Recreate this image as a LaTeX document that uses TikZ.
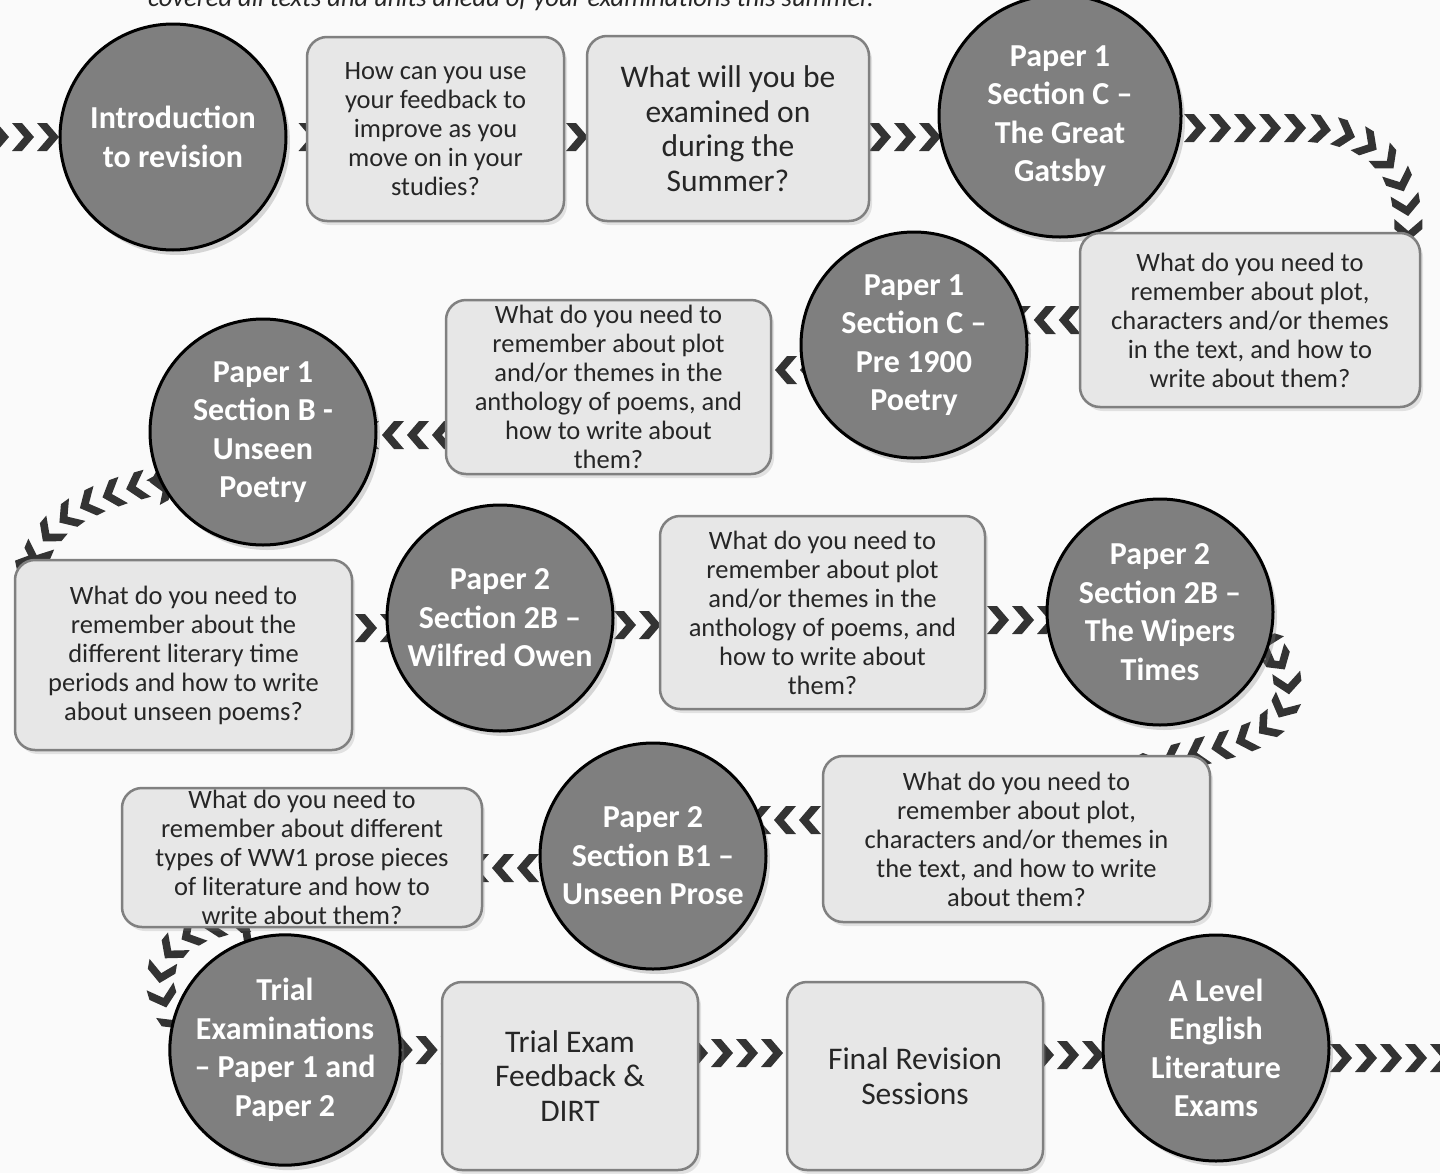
\documentclass[tikz,border=0pt]{standalone}
\usepackage{fontspec}
\setmainfont{Carlito}
\usepackage{xcolor}
\definecolor{stopgray}{RGB}{127,127,127}
\definecolor{boxgray}{RGB}{231,231,231}
\definecolor{edgegray}{RGB}{128,128,128}
\definecolor{chevgray}{RGB}{51,51,51}
\definecolor{textgray}{RGB}{38,38,38}
\definecolor{pagegray}{RGB}{250,250,250}
\usetikzlibrary{shadows, backgrounds, decorations.markings}

\begin{document}
\begin{tikzpicture}[x=1pt, y=-1pt,
    stop/.style={circle, draw=black, line width=3pt, fill=stopgray, minimum size=226pt, inner sep=0pt,
      text=white, align=center, font=\bfseries\fontsize{32}{38.5}\selectfont,
      drop shadow={opacity=0.3, shadow xshift=4pt, shadow yshift=-5pt}},
    task/.style={rectangle, rounded corners=20pt, draw=edgegray, line width=2.5pt, fill=boxgray, inner sep=0pt,
      text=textgray, align=center, font=\fontsize{26.5}{29}\selectfont,
      drop shadow={opacity=0.2, shadow xshift=3pt, shadow yshift=-4pt}},
    bigtask/.style={task, font=\fontsize{31.5}{34.5}\selectfont},
    chevs/.style={decorate, decoration={markings,
      mark=between positions #1 and 1 step 25pt with {\fill[chevgray] (-11,-14) -- (-1,-14) -- (11,0) -- (-1,14) -- (-11,14) -- (1,0) -- cycle;}}},
    chevs/.default=0pt]

      \useasboundingbox (0,0) rectangle (1440,1173);
      \clip (0,0) rectangle (1440,1173);

      % Lead-in line (cut off at the top)
      \node[anchor=base, text=textgray, font=\itshape\fontsize{26.5}{29}\selectfont] (lead) at (511,6)
        {covered all texts and units ahead of your examinations this summer.};

      % Row 1
      \node[stop] (intro) at (173,137) {Introduction\\to revision};
      \node[task, minimum width=257pt, minimum height=184pt] (feedback) at (435.5,129)
        {How can you use\\your feedback to\\improve as you\\move on in your\\studies?};
      \node[bigtask, minimum width=282pt, minimum height=185pt] (examined) at (728,128.5)
        {What will you be\\examined on\\during the\\Summer?};
      \node[stop, minimum size=242pt] (gatsby) at (1060,116) {Paper 1\\Section C --\\The Great\\Gatsby};

      % Row 2
      \node[task, minimum width=340pt, minimum height=174pt] (gatsbyq) at (1250,320)
        {What do you need to\\remember about plot,\\characters and/or themes\\in the text, and how to\\write about them?};
      \node[stop] (pre) at (914,345) {Paper 1\\Section C --\\Pre 1900\\Poetry};
      \node[task, minimum width=325pt, minimum height=174pt] (preq) at (608.5,387)
        {What do you need to\\remember about plot\\and/or themes in the\\anthology of poems, and\\how to write about\\them?};
      \node[stop] (unseen) at (263,432) {Paper 1\\Section B -\\Unseen\\Poetry};

      % Row 3
      \node[task, minimum width=337pt, minimum height=190pt] (unseenq) at (183.5,655)
        {What do you need to\\remember about the\\different literary time\\periods and how to write\\about unseen poems?};
      \node[stop] (owen) at (500,618) {Paper 2\\Section 2B --\\Wilfred Owen};
      \node[task, minimum width=325pt, minimum height=193pt] (owenq) at (822.5,612.5)
        {What do you need to\\remember about plot\\and/or themes in the\\anthology of poems, and\\how to write about\\them?};
      \node[stop] (wipers) at (1160,612) {Paper 2\\Section 2B --\\The Wipers\\Times};

      % Row 4
      \node[task, minimum width=387pt, minimum height=166pt] (wipersq) at (1016.5,839)
        {What do you need to\\remember about plot,\\characters and/or themes in\\the text, and how to write\\about them?};
      \node[stop] (prose) at (653,856) {Paper 2\\Section B1 --\\Unseen Prose};
      \node[task, minimum width=360pt, minimum height=139pt] (proseq) at (302,857.5)
        {What do you need to\\remember about different\\types of WW1 prose pieces\\of literature and how to\\write about them?};

      % Row 5
      \node[stop] (trial) at (285,1050) {Trial\\Examinations\\-- Paper 1 and\\Paper 2};
      \node[bigtask, minimum width=256pt, minimum height=188pt] (dirt) at (570,1076) {Trial Exam\\Feedback \&\\DIRT};
      \node[bigtask, minimum width=256pt, minimum height=188pt] (final) at (915,1076) {Final Revision\\Sessions};
      \node[stop] (exams) at (1216,1048) {A Level\\English\\Literature\\Exams};

      % Chevron trail, behind the stops
      \begin{pgfonlayer}{background}
        \fill[pagegray] (0,0) rectangle (1440,1173);
        \coordinate (entry) at (-30,137);
        \coordinate (exit) at (1480,1058);

        \path[chevs=3pt] (entry) -- (intro);
        \path[chevs=22pt] (intro) -- (intro -| feedback);
        \path[chevs=16.5pt] (feedback |- intro) -- (examined |- intro);
        \path[chevs=2pt] (examined |- intro) -- (gatsby |- intro);
        \path[chevs=10pt] (gatsby |- 0,128) -- (1300,128) .. controls (1372,128) and (1412,165) .. (1408,240) -- (gatsbyq);
        \path[chevs=9pt] (gatsbyq) -- (gatsbyq -| pre);
        \path[chevs=3pt] (pre |- 0,370) -- (preq |- 0,370);
        \path[chevs=15.5pt] (preq |- 0,435) -- (unseen |- 0,435);
        \path[chevs] (unseen) -- (185,475) .. controls (110,490) and (45,510) .. (32,570) -- (unseenq);
        \path[chevs=7.5pt] (unseenq |- 0,628) -- (owen |- 0,628);
        \path[chevs] (owen |- 0,625) -- (owenq |- 0,625);
        \path[chevs=0.5pt] (owenq |- 0,620) -- (wipers |- 0,620);
        \path[chevs] (wipers) -- (1265,645) .. controls (1300,675) and (1300,725) .. (1230,744) -- (1150,765) -- (wipersq);
        \path[chevs=6.5pt] (wipersq |- 0,820) -- (prose |- 0,820);
        \path[chevs] (prose |- 0,868) -- (proseq |- 0,868);
        \path[chevs] (proseq) -- (250,918) .. controls (165,925) and (140,975) .. (178,1025) -- (trial);
        \path[chevs] (trial) -- (trial -| dirt);
        \path[chevs=2pt] (dirt |- 0,1053) -- (final |- 0,1053);
        \path[chevs=3pt] (final |- 0,1055) -- (exams |- 0,1055);
        \path[chevs] (exams |- exit) -- (exit);
      \end{pgfonlayer}
    \end{tikzpicture}
\end{document}
